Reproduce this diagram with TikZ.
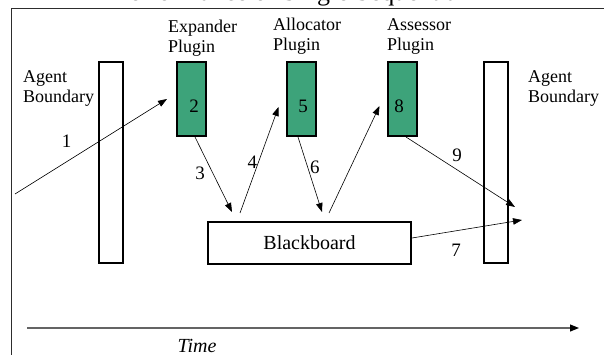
\documentclass[tikz,border=0pt]{standalone}
\usepackage{fontspec}
\setmainfont{Liberation Serif}
\usepackage{tikz}
\usetikzlibrary{arrows.meta}
\usepackage{xcolor}
\definecolor{PluginGreen}{RGB}{61,163,122}
\definecolor{FrameGray}{RGB}{45,45,45}
\definecolor{AxisGray}{RGB}{100,100,100}
\tikzset{%
  boundary/.style={%
    rectangle,%
    draw=black,%
    line width=2pt,%
    inner sep=0pt,%
    minimum width=24pt,%
    minimum height=201pt,%
  },
  plugin/.style={%
    rectangle,%
    draw=black,%
    fill=PluginGreen,%
    line width=2pt,%
    inner sep=0pt,%
    minimum width=29pt,%
    minimum height=74pt,%
  },
  board/.style={%
    rectangle,%
    draw=black,%
    line width=2pt,%
    inner sep=0pt,%
    minimum width=203pt,%
    minimum height=42pt,%
    font={\fontsize{20}{22}\selectfont},%
  },
  annotate/.style={%
    font={\fontsize{18}{20}\selectfont},%
    align=left,%
    inner sep=0pt,%
    anchor=base west,%
  },
  number/.style={%
    font={\fontsize{19}{21}\selectfont},%
    inner sep=0pt,%
  },
  message/.style={%
    line width=0.6pt,%
    -{Triangle[length=9pt, width=6.5pt]},%
  },
  frame/.style={%
    draw=FrameGray,%
    line width=1pt,%
  },
  timeline/.style={%
    draw=AxisGray,%
    line width=1.1pt,%
    -{Triangle[length=9pt, width=7pt, black]},%
  },
}

\begin{document}
\begin{tikzpicture}[x=1pt, y=-1pt]
  \useasboundingbox (0,0) rectangle (604,355);

  % heading (runs off the top) and outer frame
  \node[font={\fontsize{26}{28}\selectfont}, anchor=base, inner sep=0pt]
    (Title) at (290,1) {Performance of Single Sequential};
  \draw[frame] (11.5,365) |- (615,8.5);

  % agent boundaries, plugins, blackboard
  \node[boundary] (LeftBoundary) at (111,162.5) {};
  \node[boundary] (RightBoundary) at (495.5,162.5) {};
  \node[plugin] (Expander) at (191.5,99) {};
  \node[plugin] (Allocator) at (301,99) {};
  \node[plugin] (Assessor) at (402,99) {};
  \node[board] (Blackboard) at (309.5,243) {Blackboard};

  \node[number] (Two) at (194,106) {2};
  \node[number] (Five) at (303,106) {5};
  \node[number] (Eight) at (399,106) {8};

  % base anchor sits on the second line
  \node[annotate] (LeftLabel) at (23,103) {Agent\\Boundary};
  \node[annotate] (RightLabel) at (528,103) {Agent\\Boundary};
  \node[annotate] (ExpanderLabel) at (168,53) {Expander\\Plugin};
  \node[annotate] (AllocatorLabel) at (273,51) {Allocator\\Plugin};
  \node[annotate] (AssessorLabel) at (387,51) {Assessor\\Plugin};

  \coordinate (Incoming) at (15,194);
  \coordinate (OutA) at (515,207);
  \coordinate (OutB) at (522,220);

  % message flow
  \draw[message]
    (Incoming)
    --
    ([xshift=-9pt]Expander.west)
    node[number, pos=0.34, yshift=20pt] {1};
  \draw[message]
    ([xshift=3.5pt]Expander.south)
    --
    ([xshift=25pt, yshift=9pt]Blackboard.north west)
    node[number, pos=0.49, xshift=-13pt] {3};
  \draw[message]
    ([xshift=33pt, yshift=8pt]Blackboard.north west)
    --
    ([xshift=-7pt, yshift=-8pt]Allocator.west)
    node[number, pos=0.48, xshift=-6pt] {4};
  \draw[message]
    ([xshift=-3pt]Allocator.south)
    --
    ([xshift=115pt, yshift=9pt]Blackboard.north west)
    node[number, pos=0.41, xshift=7pt] {6};
  \draw[message]
    ([xshift=122pt, yshift=8pt]Blackboard.north west)
    --
    ([xshift=-7pt, yshift=-7pt]Assessor.west);
  \draw[message]
    ([xshift=4pt]Assessor.south)
    --
    (OutA)
    node[number, pos=0.47, yshift=15pt] {9};
  \draw[message]
    ([yshift=5pt]Blackboard.east)
    --
    (OutB)
    node[number, pos=0.40, yshift=-19pt] {7};

  % time axis
  \coordinate (TimeStart) at (27,328);
  \coordinate (TimeEnd) at (579,328);
  \draw[timeline]
    (TimeStart)
    --
    (TimeEnd);
  \node[font={\fontsize{20}{22}\selectfont\itshape}, inner sep=0pt]
    (TimeLabel) at (197,346) {Time};
\end{tikzpicture}
\end{document}
